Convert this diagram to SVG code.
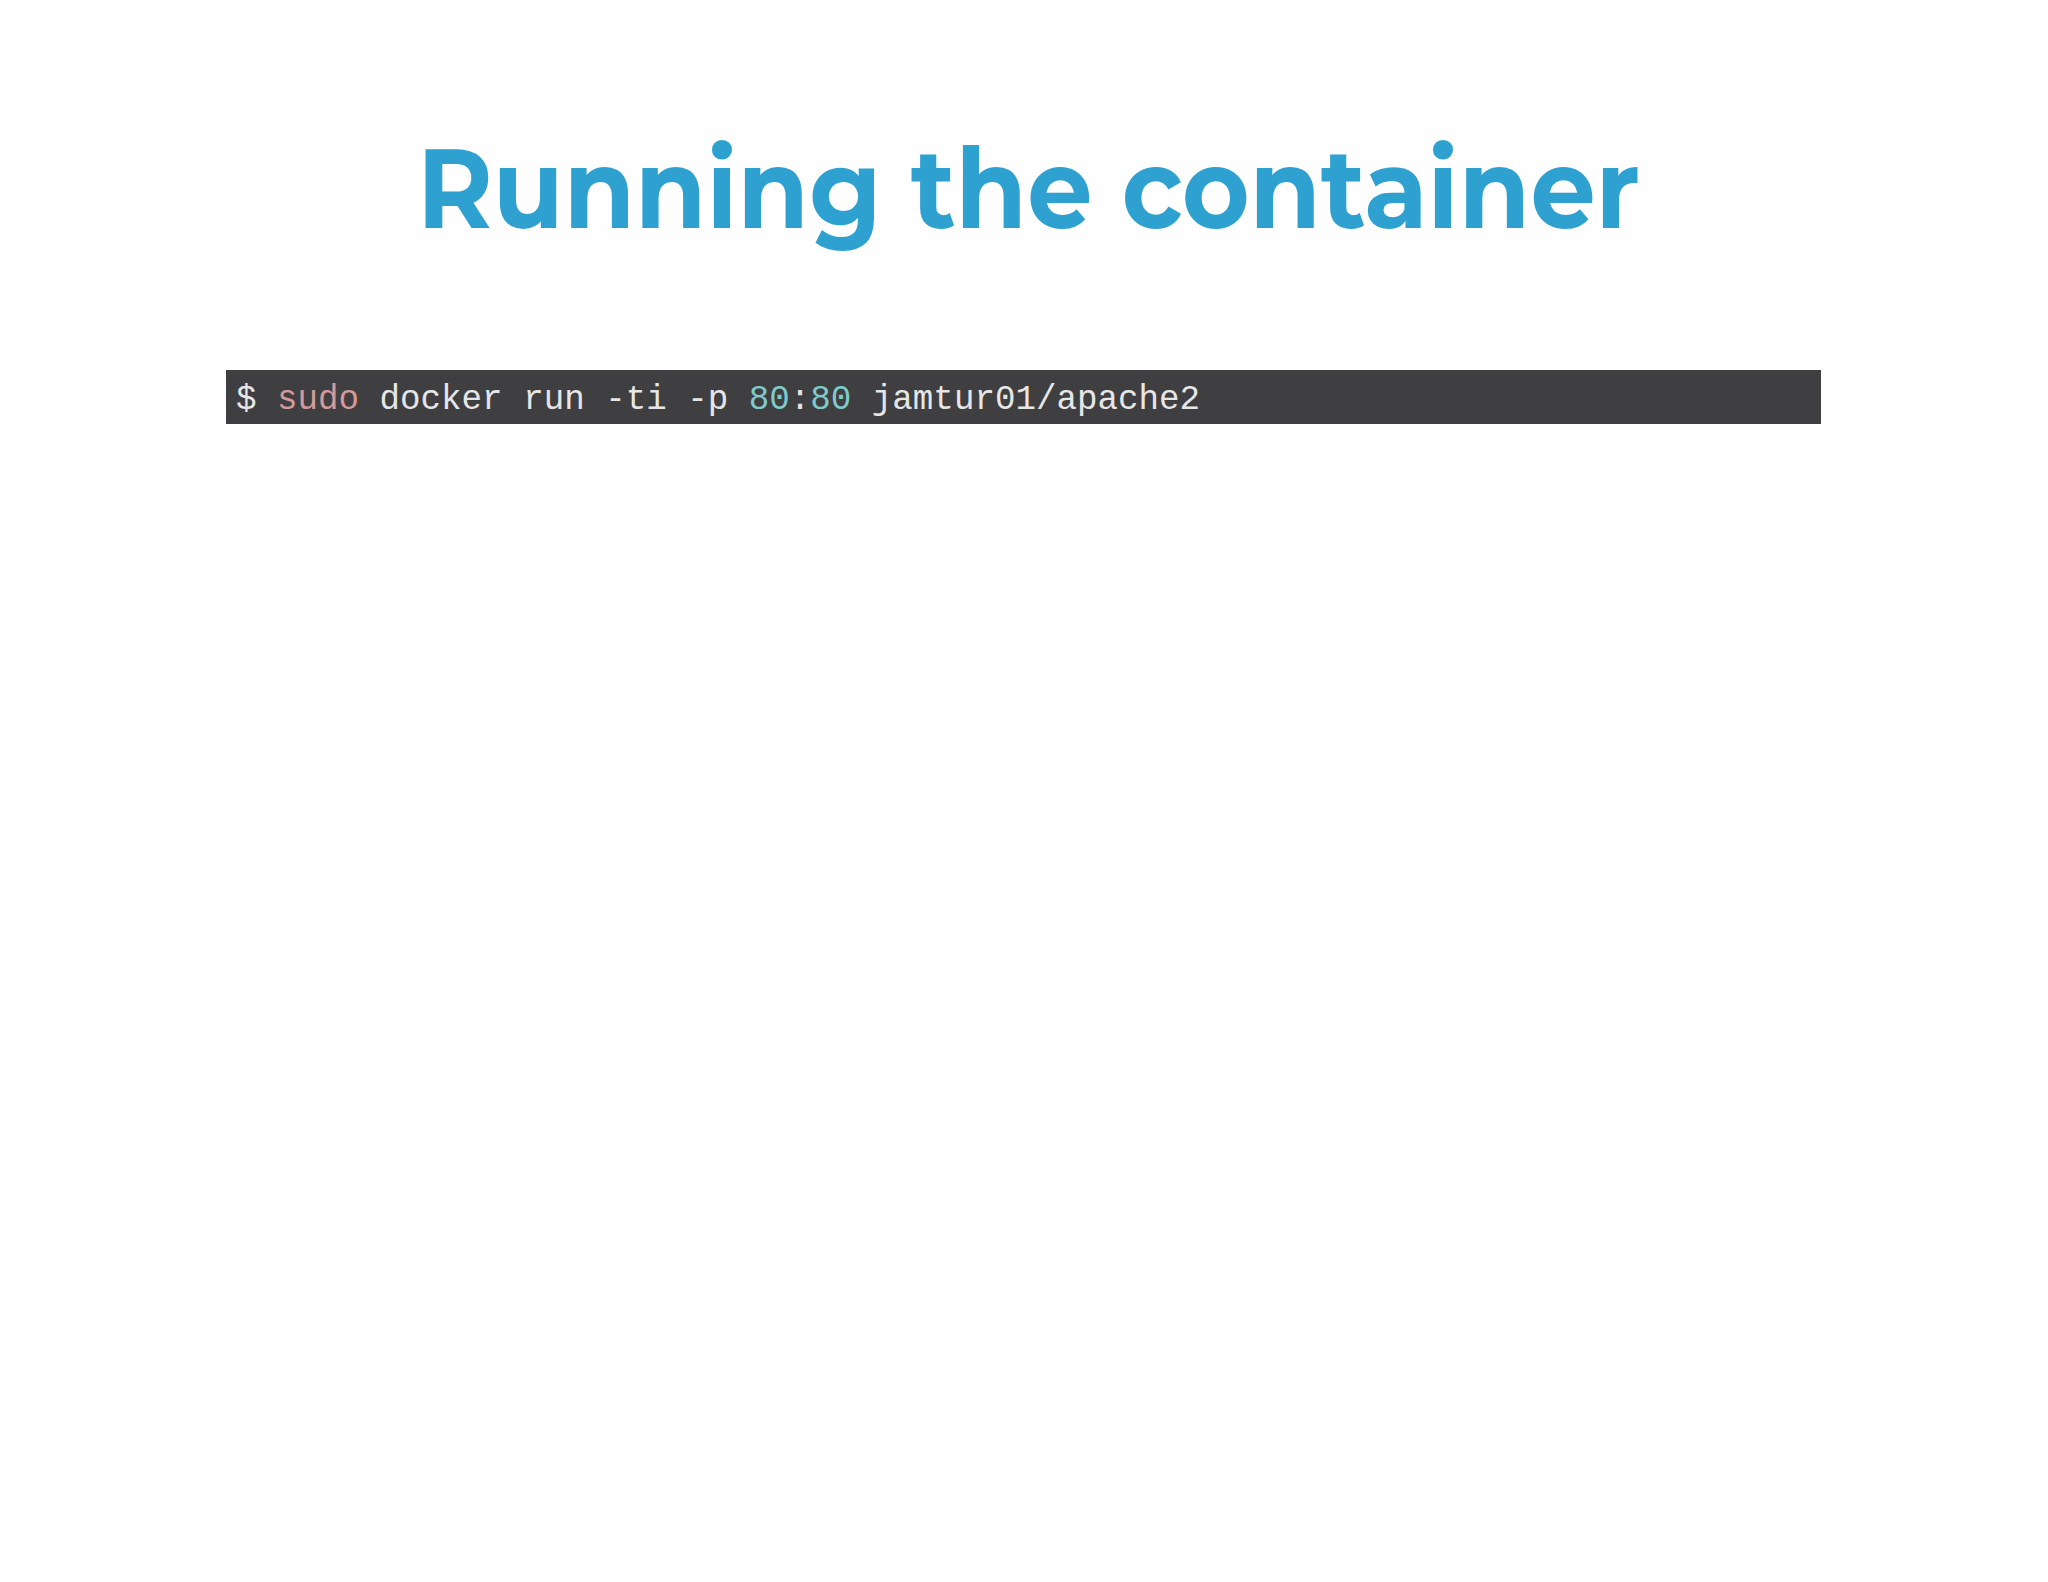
<svg xmlns="http://www.w3.org/2000/svg" width="2048" height="1582" viewBox="0 0 2048 1582">
<style>
.t{font-family:"Montserrat","Liberation Sans",Arial,sans-serif;font-weight:bold;font-size:112px;fill:#2fa1d0}
.m{font-family:"Liberation Mono","Courier New",monospace;font-size:35px;fill:#e6e6e6}
.r{fill:#d49a9a}.c{fill:#7dcbcb}
</style>
<rect width="2048" height="1582" fill="#fefefe"/>
<g id="title"><text class="t" x="417" y="228" textLength="1223" lengthAdjust="spacingAndGlyphs">Running the container</text></g>
<g id="command">
<rect x="226" y="370" width="1595" height="54" fill="#3f3e40"/>
<text class="m" x="236" y="409" textLength="964" lengthAdjust="spacingAndGlyphs">$ <tspan class="r">sudo</tspan> docker run -ti -p <tspan class="c">80</tspan>:<tspan class="c">80</tspan> jamtur01/apache2</text>
</g>
</svg>
